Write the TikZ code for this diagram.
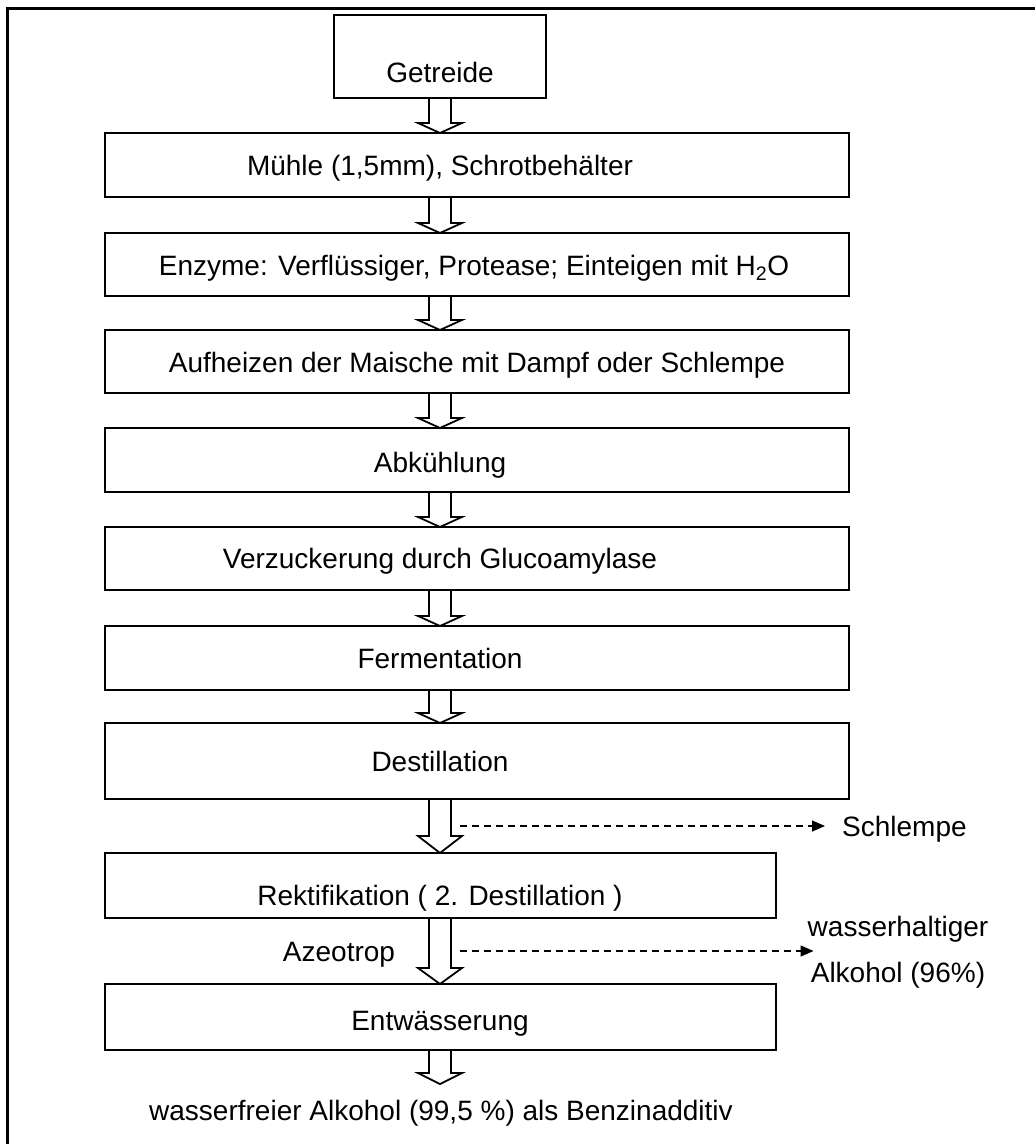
\documentclass[tikz,border=0pt]{standalone}
\usepackage{fontspec}
\setmainfont{Liberation Sans}
\usetikzlibrary{calc,arrows.meta}

% hollow block arrow on the process axis: start anchor, end anchor, head length
\newcommand\fatarrow[3]{%
  \draw[fat] ($(#1 -| ax)+(-11,0)$) -- ($(#2 -| ax)+(-11,-#3)$) -- ++(-11,0)
    -- ($(#2 -| ax)$) -- ($(#2 -| ax)+(22,-#3)$) -- ++(-11,0)
    -- ($(#1 -| ax)+(11,0)$);}

\begin{document}
\begin{tikzpicture}[x=1pt,y=-1pt,
  stepbox/.style={draw,line width=1.8pt,inner sep=0pt,outer sep=0pt},
  lbl/.style={font=\fontsize{28}{34}\selectfont,inner sep=0pt,anchor=base,yshift=-10pt},
  fat/.style={line width=1.8pt,line join=miter},
  side arrow/.style={line width=1.3pt,dash pattern=on 7pt off 5pt,
    -{Triangle[length=13pt,width=11pt]}}]
\useasboundingbox (0,0) rectangle (1035,1144);
\draw[line width=3pt] (7,1144) -- (7,8) -- (1035,8);
\coordinate (ax) at (440,0);

% process steps
\node[stepbox,minimum width=212pt,minimum height=83pt] (g) at (440,56.5) {};
\node[stepbox,minimum width=744pt,minimum height=64pt] (b1) at (477,165) {};
\node[stepbox,minimum width=744pt,minimum height=63pt] (b2) at (477,264.5) {};
\node[stepbox,minimum width=744pt,minimum height=63pt] (b3) at (477,361.5) {};
\node[stepbox,minimum width=744pt,minimum height=64pt] (b4) at (477,460) {};
\node[stepbox,minimum width=744pt,minimum height=63pt] (b5) at (477,558.5) {};
\node[stepbox,minimum width=744pt,minimum height=64pt] (b6) at (477,658) {};
\node[stepbox,minimum width=744pt,minimum height=76pt] (b7) at (477,761) {};
\node[stepbox,minimum width=671pt,minimum height=65pt] (b8) at (440.5,885.5) {};
\node[stepbox,minimum width=671pt,minimum height=66pt] (b9) at (440.5,1017) {};
\coordinate (fin) at (440,1084);

% step labels
\node[lbl] (tg) at (440,72) {Getreide};
\node[lbl] (t1) at (ax |- b1.center) {Mühle (1,5mm), Schrotbehälter};
\node[lbl] (t2) at (474,265) {Enzyme: Verflüssiger, Protease; Einteigen mit H\textsubscript{2}O};
\node[lbl] (t3) at (477,362) {Aufheizen der Maische mit Dampf oder Schlempe};
\node[lbl] (t4) at (440,462) {Abkühlung};
\node[lbl] (t5) at (ax |- b5.center) {Verzuckerung durch Glucoamylase};
\node[lbl] (t6) at (ax |- b6.center) {Fermentation};
\node[lbl] (t7) at (ax |- b7.center) {Destillation};
\node[lbl] (t8) at (440,895) {Rektifikation ( 2. Destillation )};
\node[lbl] (t9) at (440,1020) {Entwässerung};
\node[lbl] (tf) at (441,1110) {wasserfreier Alkohol (99,5 \%) als Benzinadditiv};

% flow between steps
\fatarrow{g.south}{b1.north}{10}
\fatarrow{b1.south}{b2.north}{10}
\fatarrow{b2.south}{b3.north}{10}
\fatarrow{b3.south}{b4.north}{10}
\fatarrow{b4.south}{b5.north}{10}
\fatarrow{b5.south}{b6.north}{10}
\fatarrow{b6.south}{b7.north}{10}
\fatarrow{b7.south}{b8.north}{17}
\fatarrow{b8.south}{b9.north}{16}
\fatarrow{b9.south}{fin}{11}

% side streams
\node[lbl,anchor=base west] (sch) at (842,826) {Schlempe};
\node[lbl] (az) at (339,951) {Azeotrop};
\node[font=\fontsize{28}{46}\selectfont,align=center,inner sep=0pt] (wa) at (898,952)
  {wasserhaltiger\\Alkohol (96\%)};
\coordinate (d1) at (460,826);
\coordinate (d2) at (460,951);
\draw[side arrow,shorten >=17pt] (d1) -- (sch.west |- d1);
\draw[side arrow] (d2) -- ($(wa.west |- d2)+(6,0)$);
\end{tikzpicture}
\end{document}
